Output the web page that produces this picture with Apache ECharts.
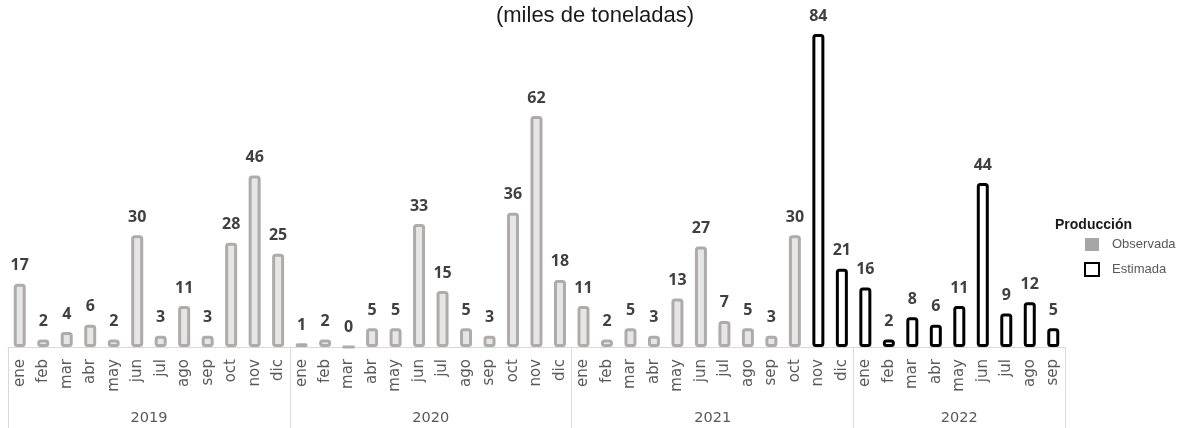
<!DOCTYPE html>
<html>
<head>
<meta charset="utf-8">
<script src="https://cdn.jsdelivr.net/npm/echarts@6/dist/echarts.min.js"></script>
<style>
  html, body { margin: 0; padding: 0; background: #fff; }
  #main { width: 1183px; height: 428px; }
</style>
</head>
<body>
<div id="main"></div>
<script>
// data
var meses = ['ene','feb','mar','abr','may','jun','jul','ago','sep','oct','nov','dic'];
var anios = ['2019', '2020', '2021', '2022'];
var mesesPorAnio = [12, 12, 12, 9];
var observada = [17, 2, 4, 6, 2, 30, 3, 11, 3, 28, 46, 25,
                 1, 2, 0, 5, 5, 33, 15, 5, 3, 36, 62, 18,
                 11, 2, 5, 3, 13, 27, 7, 5, 3, 30];
var estimada = [84, 21,
                16, 2, 8, 6, 11, 44, 9, 12, 5];

// build category list and padded series
var categorias = [];
for (var a = 0; a < anios.length; a++) {
    for (var m = 0; m < mesesPorAnio[a]; m++) {
        categorias.push(meses[m]);
    }
}
var total = categorias.length;
var serieObs = [], serieEst = [];
for (var i = 0; i < total; i++) {
    serieObs.push(i < observada.length ? observada[i] : null);
    serieEst.push(i >= observada.length ? estimada[i - observada.length] : null);
}

// year boundaries and centres for the second axis
var cortes = [0], centros = [], acc = 0;
for (var a = 0; a < anios.length; a++) {
    centros.push(acc + mesesPorAnio[a] / 2);
    acc += mesesPorAnio[a];
    cortes.push(acc);
}

var labelStyle = {
    show: true,
    position: 'top',
    distance: 10,
    color: '#404040',
    fontWeight: 'bold',
    fontSize: 16,
    fontFamily: 'Open Sans'
};

var myChart = echarts.init(document.getElementById('main'));

var option = {
    animation: false,
    title: [{
        text: '(miles de toneladas)',
        left: 590,
        top: 0,
        textAlign: 'center',
        textStyle: { fontSize: 22, fontWeight: 'normal', color: '#1a1a1a', fontFamily: 'Liberation Sans' }
    }, {
        text: 'Producción',
        left: 1050,
        top: 213,
        textStyle: { fontSize: 14, fontWeight: 'bold', color: '#1a1a1a', fontFamily: 'Liberation Sans' }
    }],
    legend: {
        orient: 'vertical',
        left: 1084,
        top: 238,
        padding: 0,
        itemWidth: 14,
        itemHeight: 13,
        itemGap: 11,
        textStyle: { fontSize: 13, color: '#595959', fontFamily: 'Liberation Sans', padding: [0, 0, 0, 8] },
        data: [
            { name: 'Observada', icon: 'rect', itemStyle: { color: '#a6a6a6', borderWidth: 0 } },
            { name: 'Estimada', icon: 'rect', itemStyle: { color: '#fff', borderColor: '#000', borderWidth: 2 } }
        ]
    },
    grid: { left: 8, right: 118, top: 34, bottom: 81 },
    xAxis: [{
        type: 'category',
        data: categorias,
        axisLine: { lineStyle: { color: '#d9d9d9', width: 1 } },
        axisTick: { show: false },
        axisLabel: {
            interval: 0,
            rotate: 90,
            margin: 12,
            color: '#595959',
            fontSize: 15,
            fontFamily: 'DejaVu Sans'
        }
    }, {
        type: 'value',
        position: 'bottom',
        min: 0,
        max: total,
        axisLine: { show: false },
        splitLine: { show: false },
        axisTick: {
            show: true,
            customValues: cortes,
            length: 82,
            lineStyle: { color: '#d9d9d9', width: 1 }
        },
        axisLabel: {
            customValues: centros,
            margin: 64,
            color: '#595959',
            fontSize: 14.5,
            fontFamily: 'DejaVu Sans',
            formatter: function (v) {
                for (var k = 0; k < centros.length; k++) {
                    if (Math.abs(centros[k] - v) < 0.01) return anios[k];
                }
                return '';
            }
        }
    }],
    yAxis: {
        type: 'value',
        min: 0,
        max: 84,
        show: false
    },
    series: [{
        name: 'Observada',
        type: 'bar',
        data: serieObs,
        barWidth: 12,
        barGap: '-100%',
        itemStyle: { color: '#e7e6e6', borderColor: '#afabab', borderWidth: 3, borderRadius: 2 },
        label: labelStyle
    }, {
        name: 'Estimada',
        type: 'bar',
        data: serieEst,
        barWidth: 12,
        itemStyle: { color: '#ffffff', borderColor: '#000000', borderWidth: 3, borderRadius: 2 },
        label: labelStyle
    }]
};

myChart.setOption(option);
</script>
</body>
</html>
